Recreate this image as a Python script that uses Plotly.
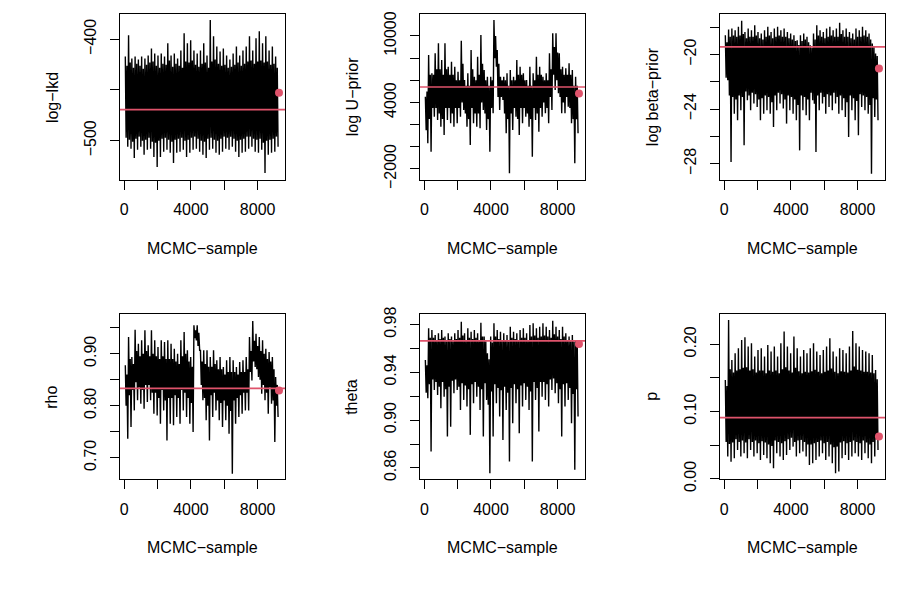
import plotly.graph_objects as go

# ---------------- data ----------------
sample_first = 62      # first plotted MCMC sample index
sample_step = 49       # spacing between plotted (thinned) samples
last_sample = 9280     # sample index of the highlighted last value

x_ticks = [0, 2000, 4000, 6000, 8000]
x_ticktext = ["0", "", "4000", "", "8000"]

titles = ["log−lkd", "log U−prior", "log beta−prior", "rho", "theta", "p"]

# per block of ~200 samples: extreme upper / lower swing (hi, lo) and the
# edges of the dense core of the trace (core_hi, core_lo)
loglkd_hi = [-417, -396, -419, -417, -420, -417, -419, -416, -409, -414, -416, -414, -417, -404, -416, -414,
             -419, -411, -394, -404, -401, -411, -414, -411, -404, -416, -381, -397, -407, -412, -409, -416,
             -420, -414, -407, -416, -411, -407, -397, -411, -399, -392, -404, -397, -411, -407, -417]
loglkd_lo = [-506, -508, -517, -509, -506, -514, -509, -508, -516, -526, -516, -511, -509, -512, -522, -512,
             -511, -509, -516, -512, -509, -508, -511, -514, -517, -509, -508, -512, -514, -511, -508, -509,
             -506, -511, -516, -512, -511, -508, -506, -511, -512, -509, -532, -514, -512, -511, -506]
loglkd_core_hi = [-426, -423, -428, -424, -426, -429, -425, -423, -422, -426, -428, -424, -425, -421, -427, -424,
                  -426, -428, -422, -423, -421, -425, -427, -424, -423, -428, -422, -420, -424, -426, -425, -428,
                  -427, -425, -423, -426, -424, -422, -421, -424, -422, -421, -423, -422, -425, -424, -428]
loglkd_core_lo = [-497, -499, -501, -498, -496, -500, -499, -497, -501, -502, -500, -498, -497, -499, -501, -499,
                  -498, -497, -500, -499, -497, -496, -498, -500, -501, -498, -497, -499, -500, -498, -496, -497,
                  -496, -498, -500, -499, -498, -496, -496, -498, -499, -498, -502, -500, -499, -498, -496]

uprior_hi = [4525, 8285, 6631, 8436, 9338, 7834, 9338, 7233, 7684, 7233, 6781, 9579, 6029, 6631, 8737, 6330,
             8135, 10090, 6932, 6330, 6330, 11444, 8737, 6330, 6330, 6631, 6932, 6330, 7834, 7233, 6631, 6029,
             7233, 6631, 8135, 7233, 6330, 6631, 8436, 10241, 10241, 8436, 7233, 7082, 7533, 6932, 6330]
uprior_lo = [314, -438, 2721, 2420, 1818, 1066, 2420, 2119, 1818, 2119, 2721, 3322, 1818, 164, 2119, 1818,
             1668, 3322, 1517, -438, 3021, 7233, 3322, 4225, 1217, -2393, 1517, 2721, 1066, 2119, 2721, 1818,
             -889, 2420, 1367, 2721, 3021, 2119, 3322, 5127, 4826, 3021, 3021, 3623, 2119, -1491, 1217]
uprior_core_hi = [5000, 6500, 6500, 7000, 7000, 6500, 7000, 6500, 6500, 6000, 6000, 7500, 5500, 5500, 7000, 6000,
                  6500, 7500, 6000, 5500, 6000, 10000, 7500, 6000, 6000, 5500, 6000, 6000, 6500, 6500, 6000, 5500,
                  5500, 6000, 6500, 6500, 6000, 6000, 7000, 9000, 8500, 7000, 6500, 6500, 6500, 5500, 5500]
uprior_core_lo = [1500, 2500, 3500, 3500, 3000, 2500, 3500, 3500, 3000, 3500, 3500, 4000, 3000, 2500, 3500, 3000,
                  3000, 4000, 3000, 2500, 3500, 8000, 4500, 4500, 3000, 2500, 3000, 3500, 2500, 3500, 3500, 3000,
                  2500, 3500, 3000, 3500, 4000, 3500, 4500, 6500, 6000, 4500, 4000, 4500, 3500, 2500, 2500]

beta_hi = [-18.58, -18.17, -18.09, -18.22, -17.97, -17.53, -18.34, -18.09, -18.22, -17.85, -18.34, -18.46,
           -18.22, -17.97, -18.34, -18.09, -17.97, -18.22, -18.09, -18.34, -18.46, -18.58, -18.95, -18.58,
           -18.46, -18.70, -19.32, -18.46, -17.85, -18.22, -18.34, -18.09, -17.97, -18.22, -18.09, -17.68,
           -18.22, -18.09, -18.34, -18.46, -18.09, -18.22, -17.97, -18.22, -18.46, -19.19, -19.93]
beta_lo = [-21.88, -27.87, -24.33, -24.82, -24.08, -26.65, -23.35, -24.08, -23.59, -23.84, -24.82, -24.33,
           -24.08, -24.33, -25.31, -24.08, -23.59, -23.96, -25.06, -24.08, -24.33, -24.82, -27.02, -24.08,
           -24.45, -24.82, -23.35, -27.14, -24.08, -23.59, -24.33, -23.84, -24.08, -23.59, -24.33, -24.08,
           -24.57, -26.04, -24.08, -24.82, -25.92, -23.84, -24.08, -24.33, -28.73, -24.57, -24.82]
beta_core_hi = [-19.1, -18.7, -18.6, -18.7, -18.6, -18.5, -18.8, -18.7, -18.7, -18.6, -18.8, -18.9,
                -18.7, -18.6, -18.8, -18.7, -18.6, -18.7, -18.7, -18.8, -18.9, -19.0, -19.3, -19.0,
                -18.9, -19.1, -19.5, -18.9, -18.6, -18.7, -18.8, -18.7, -18.6, -18.7, -18.7, -18.5,
                -18.7, -18.7, -18.8, -18.9, -18.7, -18.7, -18.6, -18.7, -18.9, -19.4, -20.1]
beta_core_lo = [-21.7, -23.0, -23.1, -23.3, -23.0, -23.1, -22.7, -23.0, -22.8, -22.9, -23.3, -23.2,
                -23.0, -23.1, -23.5, -23.0, -22.8, -22.9, -23.3, -23.0, -23.1, -23.3, -23.7, -23.0,
                -23.1, -23.3, -22.8, -23.6, -23.0, -22.8, -23.1, -22.9, -23.0, -22.8, -23.1, -23.0,
                -23.2, -23.5, -23.0, -23.2, -23.4, -22.9, -23.0, -23.1, -23.7, -23.2, -23.3]

rho_hi = [0.8776, 0.9321, 0.8936, 0.9462, 0.9192, 0.9256, 0.9449, 0.9160, 0.9449, 0.9256, 0.9128, 0.9256,
          0.9224, 0.9256, 0.9192, 0.9096, 0.9000, 0.9256, 0.9417, 0.9064, 0.8936, 0.9545, 0.9545, 0.9064,
          0.9064, 0.9064, 0.8936, 0.9064, 0.8872, 0.8936, 0.8744, 0.8872, 0.8936, 0.8872, 0.8744, 0.8840,
          0.8872, 0.8936, 0.9321, 0.9628, 0.9385, 0.9321, 0.9256, 0.9096, 0.9032, 0.8936, 0.8551]
rho_lo = [0.7365, 0.7590, 0.7910, 0.8103, 0.8038, 0.7942, 0.8071, 0.8103, 0.7846, 0.7814, 0.7654, 0.7910,
          0.7333, 0.7654, 0.7622, 0.7782, 0.7654, 0.7910, 0.7782, 0.7654, 0.7494, 0.9256, 0.9064, 0.8103,
          0.7718, 0.7333, 0.7782, 0.7910, 0.7718, 0.7590, 0.7718, 0.7462, 0.6692, 0.7654, 0.7782, 0.7846,
          0.7910, 0.7910, 0.8487, 0.8744, 0.8551, 0.8231, 0.8103, 0.7846, 0.8038, 0.7301, 0.7782]
rho_core_hi = [0.860, 0.890, 0.880, 0.905, 0.895, 0.900, 0.905, 0.895, 0.900, 0.895, 0.890, 0.895,
               0.890, 0.890, 0.890, 0.885, 0.880, 0.895, 0.900, 0.885, 0.875, 0.945, 0.940, 0.885,
               0.880, 0.875, 0.875, 0.880, 0.870, 0.870, 0.860, 0.865, 0.865, 0.865, 0.860, 0.865,
               0.865, 0.870, 0.905, 0.925, 0.915, 0.905, 0.900, 0.890, 0.885, 0.870, 0.840]
rho_core_lo = [0.800, 0.820, 0.830, 0.845, 0.835, 0.830, 0.840, 0.840, 0.825, 0.825, 0.815, 0.830,
               0.810, 0.815, 0.815, 0.820, 0.815, 0.830, 0.825, 0.815, 0.805, 0.930, 0.915, 0.840,
               0.815, 0.800, 0.820, 0.825, 0.810, 0.805, 0.810, 0.800, 0.790, 0.810, 0.815, 0.820,
               0.825, 0.825, 0.865, 0.885, 0.870, 0.850, 0.840, 0.825, 0.835, 0.810, 0.800]

theta_hi = [0.9504, 0.9769, 0.9755, 0.9714, 0.9727, 0.9755, 0.9700, 0.9727, 0.9700, 0.9727, 0.9755, 0.9825,
            0.9727, 0.9769, 0.9741, 0.9755, 0.9727, 0.9817, 0.9700, 0.9560, 0.9700, 0.9811, 0.9755, 0.9741,
            0.9727, 0.9714, 0.9783, 0.9741, 0.9727, 0.9755, 0.9769, 0.9727, 0.9797, 0.9811, 0.9769, 0.9783,
            0.9811, 0.9783, 0.9755, 0.9833, 0.9783, 0.9755, 0.9783, 0.9727, 0.9700, 0.9714, 0.9672]
theta_lo = [0.9184, 0.8737, 0.9253, 0.9211, 0.9100, 0.9197, 0.8863, 0.8946, 0.9225, 0.9253, 0.9086, 0.9170,
            0.9114, 0.8877, 0.9142, 0.9197, 0.9086, 0.8863, 0.9170, 0.8556, 0.8863, 0.9142, 0.9030, 0.8835,
            0.9086, 0.8654, 0.8974, 0.9142, 0.8891, 0.9114, 0.9170, 0.9086, 0.8654, 0.9170, 0.8905, 0.9197,
            0.9170, 0.9114, 0.9253, 0.9225, 0.9142, 0.8863, 0.9114, 0.9170, 0.8974, 0.8584, 0.9030]
theta_core_hi = [0.946, 0.969, 0.969, 0.967, 0.968, 0.969, 0.966, 0.968, 0.966, 0.968, 0.969, 0.971,
                 0.967, 0.969, 0.968, 0.969, 0.967, 0.970, 0.966, 0.951, 0.965, 0.970, 0.968, 0.967,
                 0.967, 0.966, 0.969, 0.968, 0.967, 0.969, 0.969, 0.967, 0.970, 0.971, 0.969, 0.970,
                 0.971, 0.970, 0.969, 0.972, 0.970, 0.968, 0.970, 0.967, 0.966, 0.966, 0.963]
theta_core_lo = [0.923, 0.930, 0.934, 0.932, 0.928, 0.932, 0.926, 0.928, 0.933, 0.934, 0.928, 0.931,
                 0.929, 0.926, 0.930, 0.932, 0.928, 0.926, 0.931, 0.913, 0.924, 0.930, 0.927, 0.925,
                 0.928, 0.923, 0.927, 0.930, 0.926, 0.929, 0.931, 0.928, 0.924, 0.932, 0.927, 0.932,
                 0.932, 0.930, 0.934, 0.935, 0.931, 0.926, 0.930, 0.931, 0.927, 0.922, 0.926]

p_hi = [0.1470, 0.2361, 0.1767, 0.1866, 0.1941, 0.2064, 0.2104, 0.1965, 0.2015, 0.1817, 0.1916, 0.1941,
        0.1817, 0.1990, 0.1891, 0.1965, 0.1817, 0.2015, 0.2188, 0.1965, 0.1866, 0.2114, 0.1941, 0.1817,
        0.1916, 0.1866, 0.1941, 0.2015, 0.1891, 0.1842, 0.1916, 0.1965, 0.2089, 0.1891, 0.1817, 0.1941,
        0.1916, 0.1866, 0.1965, 0.2198, 0.2015, 0.1965, 0.1916, 0.1891, 0.1866, 0.1842, 0.1619]
p_lo = [0.0332, 0.0257, 0.0307, 0.0431, 0.0332, 0.0381, 0.0307, 0.0431, 0.0332, 0.0381, 0.0282, 0.0356,
        0.0307, 0.0233, 0.0158, 0.0381, 0.0332, 0.0282, 0.0356, 0.0431, 0.0480, 0.0332, 0.0381, 0.0406,
        0.0332, 0.0208, 0.0233, 0.0282, 0.0332, 0.0381, 0.0282, 0.0332, 0.0233, 0.0084, 0.0109, 0.0307,
        0.0356, 0.0282, 0.0332, 0.0381, 0.0332, 0.0282, 0.0381, 0.0307, 0.0233, 0.0332, 0.0431]
p_core_hi = [0.138, 0.163, 0.158, 0.161, 0.163, 0.165, 0.166, 0.161, 0.163, 0.158, 0.161, 0.161,
             0.157, 0.161, 0.159, 0.161, 0.157, 0.163, 0.166, 0.161, 0.158, 0.165, 0.160, 0.157,
             0.159, 0.158, 0.160, 0.162, 0.159, 0.157, 0.159, 0.161, 0.164, 0.159, 0.157, 0.160,
             0.159, 0.158, 0.161, 0.167, 0.162, 0.161, 0.159, 0.159, 0.158, 0.157, 0.148]
p_core_lo = [0.055, 0.052, 0.054, 0.059, 0.055, 0.057, 0.054, 0.059, 0.055, 0.057, 0.053, 0.056,
             0.054, 0.051, 0.049, 0.057, 0.055, 0.053, 0.056, 0.059, 0.061, 0.055, 0.057, 0.058,
             0.055, 0.051, 0.051, 0.053, 0.055, 0.057, 0.053, 0.055, 0.051, 0.047, 0.048, 0.054,
             0.056, 0.053, 0.055, 0.057, 0.055, 0.053, 0.057, 0.054, 0.051, 0.055, 0.059]

ref_values = [-469.4, 5395, -19.44, 0.8333, 0.9664, 0.0911]     # red horizontal lines
last_values = [-452.7, 4807, -21.02, 0.8294, 0.9639, 0.0629]    # red dots

y_ranges = [[-538.8, -375.3], [-2993, 11958], [-29.19, -17.05],
            [0.6585, 0.9758], [0.8505, 0.9887], [-0.0005, 0.2445]]
y_ticks = [[-500, -450, -400],
           [-2000, 0, 2000, 4000, 6000, 8000, 10000],
           [-28, -26, -24, -22, -20, -18],
           [0.70, 0.75, 0.80, 0.85, 0.90, 0.95],
           [0.86, 0.88, 0.90, 0.92, 0.94, 0.96, 0.98],
           [0.00, 0.05, 0.10, 0.15, 0.20]]
y_ticktext = [["−500", "", "−400"],
              ["−2000", "", "", "4000", "", "", "10000"],
              ["−28", "", "−24", "", "−20", ""],
              ["0.70", "", "0.80", "", "0.90", ""],
              ["0.86", "", "0.90", "", "0.94", "", "0.98"],
              ["0.00", "", "0.10", "", "0.20"]]

his = [loglkd_hi, uprior_hi, beta_hi, rho_hi, theta_hi, p_hi]
los = [loglkd_lo, uprior_lo, beta_lo, rho_lo, theta_lo, p_lo]
core_his = [loglkd_core_hi, uprior_core_hi, beta_core_hi, rho_core_hi, theta_core_hi, p_core_hi]
core_los = [loglkd_core_lo, uprior_core_lo, beta_core_lo, rho_core_lo, theta_core_lo, p_core_lo]

# ---------------- figure ----------------
RED = "#DF536B"
FONT = "Liberation Sans, Arial, Helvetica, sans-serif"
x_domains = [[0.1333, 0.3167], [0.4667, 0.65], [0.8, 0.9833]]
y_domains = [[0.7, 0.9762], [0.2012, 0.4762]]

fig = go.Figure()
layout = dict(width=900, height=600, margin=dict(l=0, r=0, t=0, b=0, autoexpand=False),
              paper_bgcolor="white", plot_bgcolor="white", showlegend=False,
              font=dict(family=FONT, size=16, color="black"))
annotations = []
shapes = []

for i in range(6):
    row, col = divmod(i, 3)
    n = i + 1
    xa = "x" if n == 1 else f"x{n}"
    ya = "y" if n == 1 else f"y{n}"
    ys = []
    for h, cl, ch, lo in zip(his[i], core_los[i], core_his[i], los[i]):
        ys.extend([h, cl, ch, lo])
    xs = [sample_first + sample_step * k for k in range(len(ys))]
    fig.add_trace(go.Scatter(x=xs, y=ys, mode="lines", line=dict(color="black", width=1.4),
                             xaxis=xa, yaxis=ya, hoverinfo="skip"))
    fig.add_trace(go.Scatter(x=[last_sample], y=[last_values[i]], mode="markers",
                             marker=dict(color=RED, size=8), xaxis=xa, yaxis=ya, cliponaxis=False,
                             hoverinfo="skip"))
    shapes.append(dict(type="line", xref=f"{xa} domain", yref=ya, x0=0, x1=1,
                       y0=ref_values[i], y1=ref_values[i], line=dict(color=RED, width=1.6), layer="above"))
    axis_common = dict(showline=True, mirror=True, linecolor="black", linewidth=1.3,
                       ticks="outside", ticklen=9, tickwidth=1.3, tickcolor="black", automargin=False,
                       showgrid=False, zeroline=False, tickfont=dict(family=FONT, size=16, color="black"))
    layout[f"xaxis{'' if n == 1 else n}"] = dict(domain=x_domains[col], anchor=ya,
                                                 range=[-258, 9642], tickmode="array",
                                                 tickvals=x_ticks, ticktext=x_ticktext,
                                                 ticklabelstandoff=6, **axis_common)
    layout[f"yaxis{'' if n == 1 else n}"] = dict(domain=y_domains[row], anchor=xa,
                                                 range=y_ranges[i], tickmode="array",
                                                 tickvals=y_ticks[i], ticktext=y_ticktext[i],
                                                 tickangle=-90, ticklabelstandoff=7, **axis_common)
    annotations.append(dict(text="MCMC−sample", xref=f"{xa} domain", yref=f"{ya} domain",
                            x=0.5, y=-0.415, xanchor="center", yanchor="middle", showarrow=False,
                            font=dict(family=FONT, size=16, color="black")))
    annotations.append(dict(text=titles[i], xref=f"{xa} domain", yref=f"{ya} domain",
                            x=-0.412, y=0.5, xanchor="center", yanchor="middle", textangle=-90,
                            showarrow=False, font=dict(family=FONT, size=16, color="black")))

layout["annotations"] = annotations
layout["shapes"] = shapes
fig.update_layout(**layout)
fig.write_html("out.html", config={"displayModeBar": False},
               post_script="document.body.style.margin='0px';")
